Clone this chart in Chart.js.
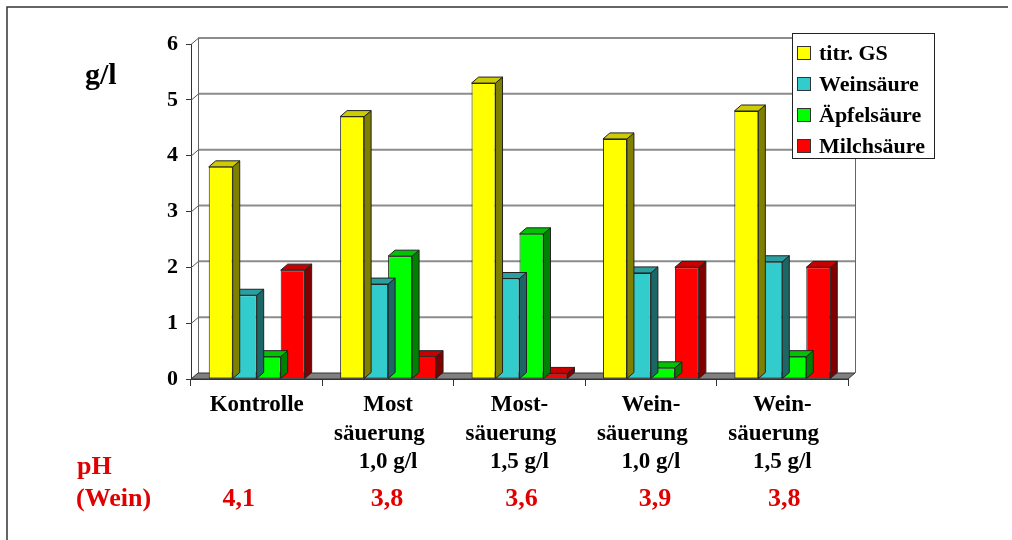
<!DOCTYPE html>
<html>
<head>
<meta charset="utf-8">
<script src="https://cdn.jsdelivr.net/npm/chart.js@4/dist/chart.umd.min.js"></script>
<style>
  html, body { margin: 0; padding: 0; background: #ffffff; }
  #wrap { width: 1012px; height: 540px; position: relative; }
</style>
</head>
<body>
<div id="wrap"><canvas id="c" width="1012" height="540"></canvas></div>
<script>
// Category labels (one array of lines per group)
const categories = [
  ['Kontrolle'],
  ['Most', 'säuerung   ', '1,0 g/l'],
  ['Most-', 'säuerung   ', '1,5 g/l'],
  ['Wein-', 'säuerung   ', '1,0 g/l'],
  ['Wein-', 'säuerung   ', '1,5 g/l']
];

// Acid contents in g/l
const titrGS       = [3.8, 4.7, 5.3, 4.3, 4.8];
const weinsaeure   = [1.5, 1.7, 1.8, 1.9, 2.1];
const aepfelsaeure = [0.4, 2.2, 2.6, 0.2, 0.4];
const milchsaeure  = [1.95, 0.4, 0.1, 2.0, 2.0];

// pH of the finished wine per group
const phWein = ['4,1', '3,8', '3,6', '3,9', '3,8'];
const phShift = [-18, -1, 2, 4, 2];

const yTicks = [0, 1, 2, 3, 4, 5, 6];

const seriesNames = ['titr. GS', 'Weinsäure', 'Äpfelsäure', 'Milchsäure'];
const frontColors = ['#FFFF00', '#33CCCC', '#00FF00', '#FF0000'];
const topColors   = ['#CCCC00', '#2A9F9F', '#00C400', '#C80000'];
const sideColors  = ['#808000', '#1D6666', '#008000', '#800000'];

const SERIF = '"Liberation Serif", "Times New Roman", serif';
const DX = 7, DY = 6;   // depth offset of the pseudo-3D look

function poly(ctx, pts, fill, stroke) {
  ctx.beginPath();
  ctx.moveTo(pts[0][0], pts[0][1]);
  for (let i = 1; i < pts.length; i++) ctx.lineTo(pts[i][0], pts[i][1]);
  ctx.closePath();
  if (fill) { ctx.fillStyle = fill; ctx.fill(); }
  if (stroke) { ctx.strokeStyle = stroke; ctx.lineWidth = 1; ctx.stroke(); }
}

const depthPlugin = {
  id: 'depth',
  beforeDatasetsDraw(chart) {
    const ctx = chart.ctx;
    const ys = chart.scales.y;
    const ca = chart.chartArea;
    ctx.save();
    // back wall gridlines
    ctx.strokeStyle = '#8c8c8c';
    ctx.lineWidth = 2;
    yTicks.forEach(v => {
      const py = ys.getPixelForValue(v);
      if (v > 0) {
        ctx.beginPath();
        ctx.moveTo(ca.left + DX, py - DY);
        ctx.lineTo(ca.right + DX, py - DY);
        ctx.stroke();
      }
    });
    // side wall diagonals
    ctx.strokeStyle = '#555';
    ctx.lineWidth = 1;
    yTicks.forEach(v => {
      const py = ys.getPixelForValue(v);
      ctx.beginPath();
      ctx.moveTo(ca.left, py + 0.5);
      ctx.lineTo(ca.left + DX, py - DY + 0.5);
      ctx.stroke();
    });
    // back wall verticals
    ctx.strokeStyle = '#666';
    ctx.beginPath();
    ctx.moveTo(ca.left + DX + 0.5, ca.top - DY);
    ctx.lineTo(ca.left + DX + 0.5, ca.bottom - DY);
    ctx.moveTo(ca.right + DX + 0.5, ca.top - DY);
    ctx.lineTo(ca.right + DX + 0.5, ca.bottom - DY);
    ctx.stroke();
    // floor
    const b = ys.getPixelForValue(0);
    poly(ctx, [[ca.left, b], [ca.right, b], [ca.right + DX, b - DY], [ca.left + DX, b - DY]], '#808080', '#333');
    ctx.restore();
  },
  beforeDatasetDraw(chart, args) {
    const ctx = chart.ctx;
    const i = args.index;
    ctx.save();
    args.meta.data.forEach(bar => {
      const p = bar.getProps(['x', 'y', 'base', 'width'], true);
      const l = p.x - p.width / 2, r = p.x + p.width / 2;
      poly(ctx, [[r, p.y], [r + DX, p.y - DY], [r + DX, p.base - DY], [r, p.base]], sideColors[i], '#222');
      poly(ctx, [[l, p.y], [r, p.y], [r + DX, p.y - DY], [l + DX, p.y - DY]], topColors[i], '#222');
    });
    ctx.restore();
  },
  afterDraw(chart) {
    const ctx = chart.ctx;
    const xs = chart.scales.x;
    ctx.save();
    // outer frame (top and left)
    ctx.strokeStyle = '#333';
    ctx.lineWidth = 1.5;
    ctx.beginPath();
    ctx.moveTo(7, 540);
    ctx.lineTo(7, 7);
    ctx.lineTo(1008, 7);
    ctx.stroke();

    // unit label
    ctx.fillStyle = '#000';
    ctx.font = 'bold 30px ' + SERIF;
    ctx.textAlign = 'left';
    ctx.textBaseline = 'alphabetic';
    ctx.fillText('g/l', 85, 84);

    // legend
    const lx = 792, ly = 33, lw = 142, lh = 125;
    ctx.fillStyle = '#fff';
    ctx.fillRect(lx, ly, lw, lh);
    ctx.strokeStyle = '#222';
    ctx.lineWidth = 1;
    ctx.strokeRect(lx + 0.5, ly + 0.5, lw, lh);
    ctx.font = 'bold 22px ' + SERIF;
    ctx.textBaseline = 'middle';
    seriesNames.forEach((name, k) => {
      const cy = 53 + k * 31;
      ctx.fillStyle = frontColors[k];
      ctx.fillRect(797, cy - 7, 14, 14);
      ctx.strokeStyle = '#333';
      ctx.strokeRect(797.5, cy - 6.5, 13, 13);
      ctx.fillStyle = '#000';
      ctx.fillText(name, 819, cy + 1);
    });

    // pH row
    ctx.fillStyle = '#E00000';
    ctx.font = 'bold 26px ' + SERIF;
    ctx.textAlign = 'left';
    ctx.fillText('pH', 77, 467);
    ctx.fillText('(Wein)', 76, 499);
    ctx.textAlign = 'center';
    phWein.forEach((t, k) => {
      ctx.fillText(t, xs.getPixelForValue(k) + phShift[k], 499);
    });
    ctx.restore();
  }
};

const datasets = [titrGS, weinsaeure, aepfelsaeure, milchsaeure].map((d, k) => ({
  label: seriesNames[k],
  data: d,
  backgroundColor: frontColors[k],
  borderColor: '#222',
  borderWidth: 1,
  borderSkipped: false,
  barPercentage: 1.0,
  categoryPercentage: 0.73
}));

new Chart(document.getElementById('c'), {
  type: 'bar',
  data: { labels: categories, datasets },
  plugins: [depthPlugin],
  options: {
    responsive: false,
    animation: false,
    devicePixelRatio: 1,
    layout: { padding: { left: 0, top: 44, right: 164, bottom: 0 } },
    plugins: { legend: { display: false }, tooltip: { enabled: false } },
    scales: {
      x: {
        grid: { drawOnChartArea: false, tickLength: 7, color: '#333', offset: true },
        border: { display: true, color: '#333' },
        ticks: {
          color: '#000',
          padding: 5,
          maxRotation: 0,
          autoSkip: false,
          font: { family: SERIF, weight: 'bold', size: 23, lineHeight: 1.24 }
        },
        afterFit(scale) { scale.height = 161; }
      },
      y: {
        min: 0, max: 6,
        grid: { drawOnChartArea: false, tickLength: 5, color: '#333' },
        border: { display: true, color: '#333' },
        ticks: {
          stepSize: 1,
          color: '#000',
          padding: 8,
          font: { family: SERIF, weight: 'bold', size: 22 }
        },
        afterFit(scale) { scale.width = 191; }
      }
    }
  }
});
</script>
</body>
</html>
